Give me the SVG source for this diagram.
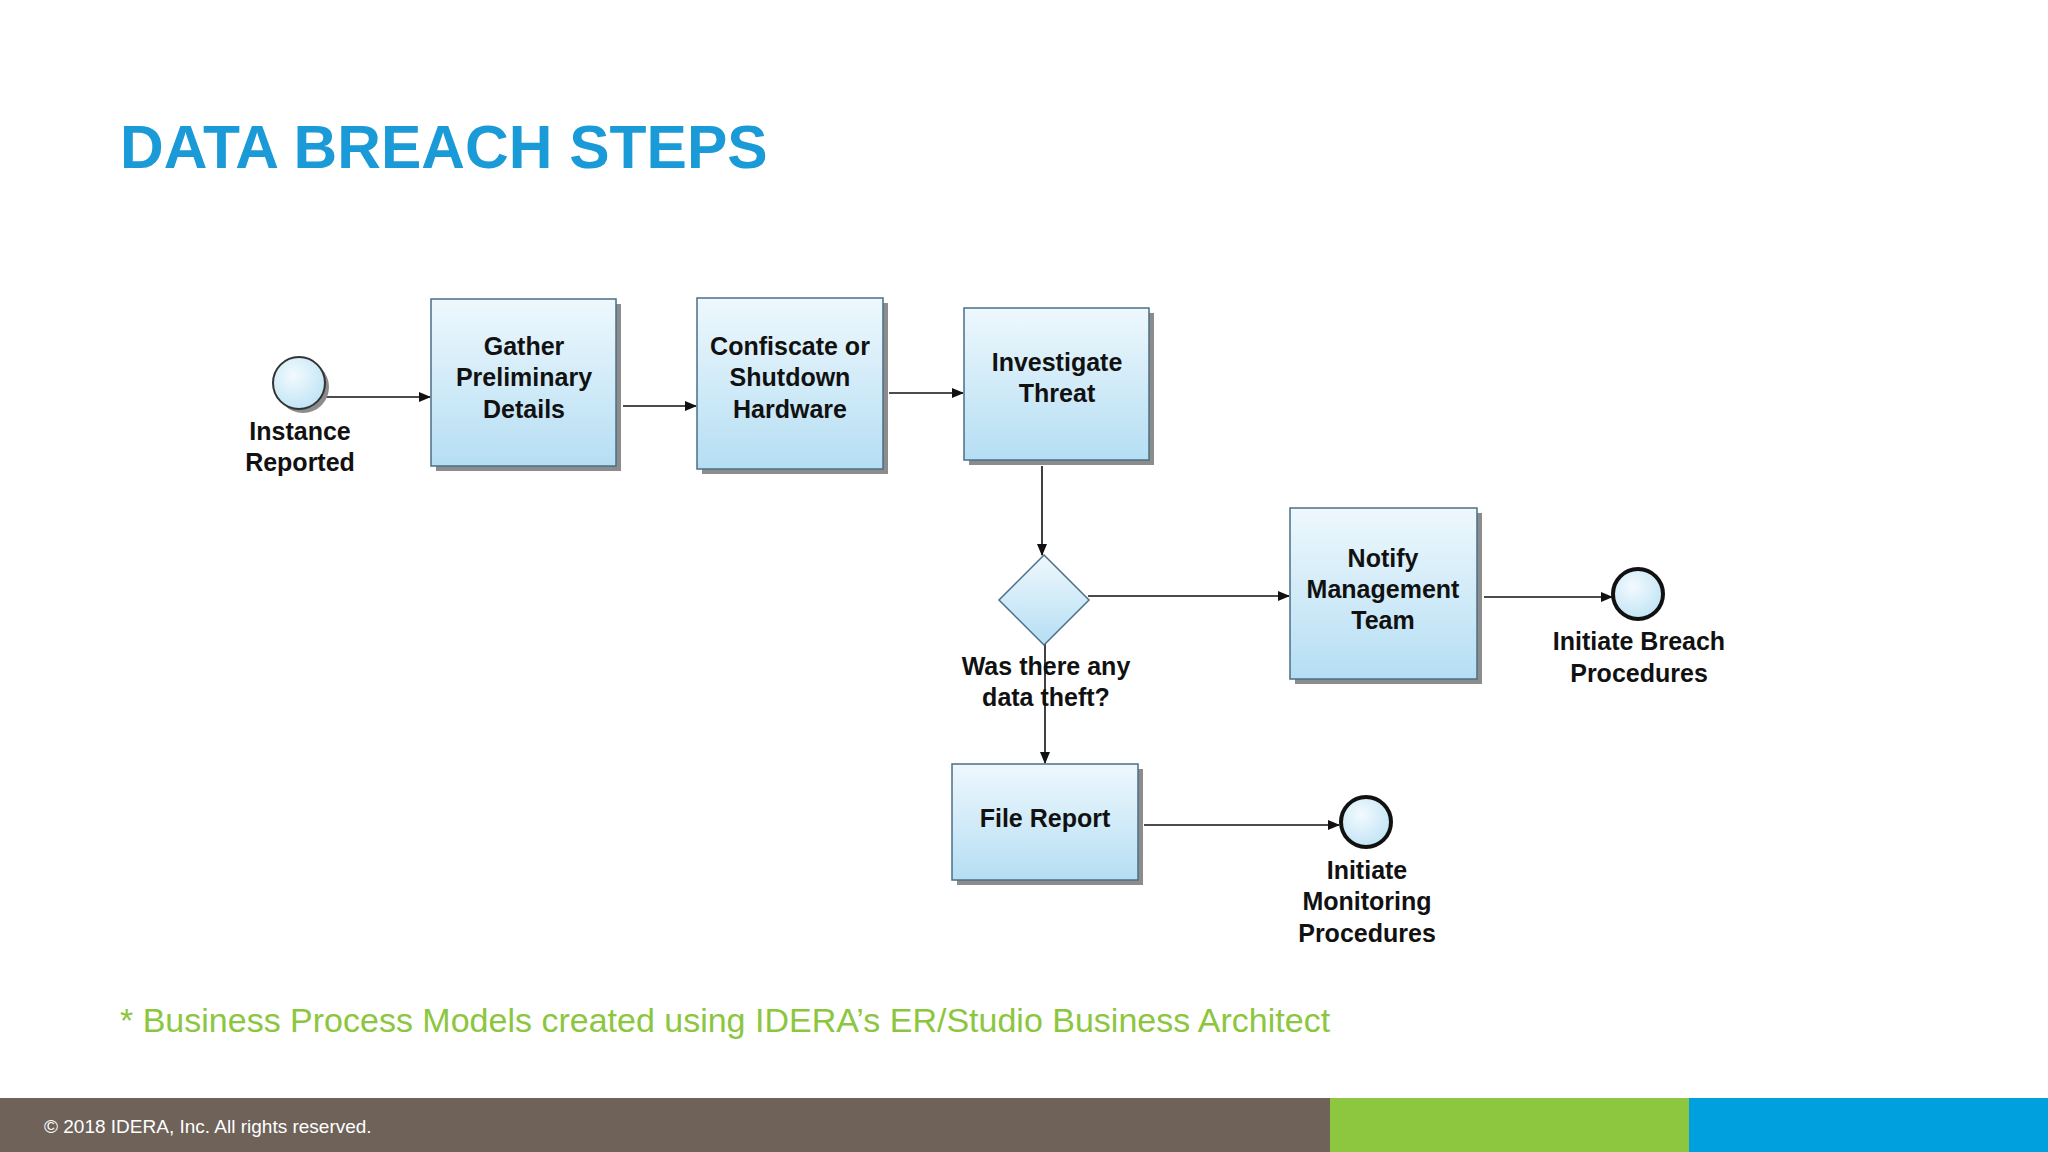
<svg xmlns="http://www.w3.org/2000/svg" width="2048" height="1152" viewBox="0 0 2048 1152">
<defs>
<linearGradient id="g" x1="0" y1="0" x2="0" y2="1"><stop offset="0" stop-color="#eef8fd"/><stop offset="1" stop-color="#b5def3"/></linearGradient>
<radialGradient id="cg" cx="0.4" cy="0.35" r="0.7"><stop offset="0" stop-color="#f2fafe"/><stop offset="1" stop-color="#bfe3f5"/></radialGradient>
<marker id="a" markerWidth="12" markerHeight="10" refX="11" refY="5" orient="auto" markerUnits="userSpaceOnUse"><path d="M0,0 L12,5 L0,10 Z" fill="#111"/></marker>
<style>
.b{fill:url(#g);stroke:#4a6f86;stroke-width:1.5}
.s{fill:#8c8c8c}
.c{fill:url(#cg);stroke:#333;stroke-width:2}
.e{fill:url(#cg);stroke:#111;stroke-width:4}
.t{font-family:"Liberation Sans",Arial,sans-serif;font-weight:bold;font-size:25px;fill:#111;text-anchor:middle}
.l{stroke:#111;stroke-width:1.6;fill:none;marker-end:url(#a)}
</style>
</defs>
<rect width="2048" height="1152" fill="#fff"/>
<text x="120" y="168" font-family="Liberation Sans,Arial,sans-serif" font-weight="bold" font-size="60.5" fill="#1a9ad6">DATA BREACH STEPS</text>
<g id="connectors">
<path class="l" d="M326,397H430"/>
<path class="l" d="M623,406H696"/>
<path class="l" d="M889,393H963"/>
<path class="l" d="M1042,466V555"/>
<path class="l" d="M1088,596H1289"/>
<path class="l" d="M1484,597H1612"/>
<path class="l" d="M1045,644V763"/>
<path class="l" d="M1144,825H1339"/>
</g>
<g id="start"><circle class="s" cx="303" cy="387" r="26"/><circle class="c" cx="299" cy="383" r="26"/><text class="t" x="300" y="440">Instance</text><text class="t" x="300" y="471">Reported</text></g>
<g id="gather"><rect class="s" x="436" y="304" width="185" height="167"/><rect class="b" x="431" y="299" width="185" height="167"/><text class="t" x="524" y="355">Gather</text><text class="t" x="524" y="386">Preliminary</text><text class="t" x="524" y="418">Details</text></g>
<g id="confiscate"><rect class="s" x="702" y="303" width="186" height="171"/><rect class="b" x="697" y="298" width="186" height="171"/><text class="t" x="790" y="355">Confiscate or</text><text class="t" x="790" y="386">Shutdown</text><text class="t" x="790" y="418">Hardware</text></g>
<g id="investigate"><rect class="s" x="969" y="313" width="185" height="152"/><rect class="b" x="964" y="308" width="185" height="152"/><text class="t" x="1057" y="371">Investigate</text><text class="t" x="1057" y="402">Threat</text></g>
<g id="decision"><path class="b" d="M1044,555 L1089,600 L1044,645 L999,600 Z"/><text class="t" x="1046" y="675">Was there any</text><text class="t" x="1046" y="706">data theft?</text></g>
<g id="notify"><rect class="s" x="1295" y="513" width="187" height="171"/><rect class="b" x="1290" y="508" width="187" height="171"/><text class="t" x="1383" y="567">Notify</text><text class="t" x="1383" y="598">Management</text><text class="t" x="1383" y="629">Team</text></g>
<g id="end1"><circle class="e" cx="1638" cy="594" r="25"/><text class="t" x="1639" y="650">Initiate Breach</text><text class="t" x="1639" y="682">Procedures</text></g>
<g id="file"><rect class="s" x="957" y="769" width="186" height="116"/><rect class="b" x="952" y="764" width="186" height="116"/><text class="t" x="1045" y="827">File Report</text></g>
<g id="end2"><circle class="e" cx="1366" cy="822" r="25"/><text class="t" x="1367" y="879">Initiate</text><text class="t" x="1367" y="910">Monitoring</text><text class="t" x="1367" y="942">Procedures</text></g>
<text x="120" y="1032" font-family="Liberation Sans,Arial,sans-serif" font-size="34" fill="#8cc63f">* Business Process Models created using IDERA’s ER/Studio Business Architect</text>
<rect x="0" y="1098" width="1330" height="54" fill="#6e6259"/>
<rect x="1330" y="1098" width="359" height="54" fill="#8dc63f"/>
<rect x="1689" y="1098" width="359" height="54" fill="#00a0df"/>
<text x="44" y="1133" font-family="Liberation Sans,Arial,sans-serif" font-size="19" fill="#fff">© 2018 IDERA, Inc. All rights reserved.</text>
</svg>
